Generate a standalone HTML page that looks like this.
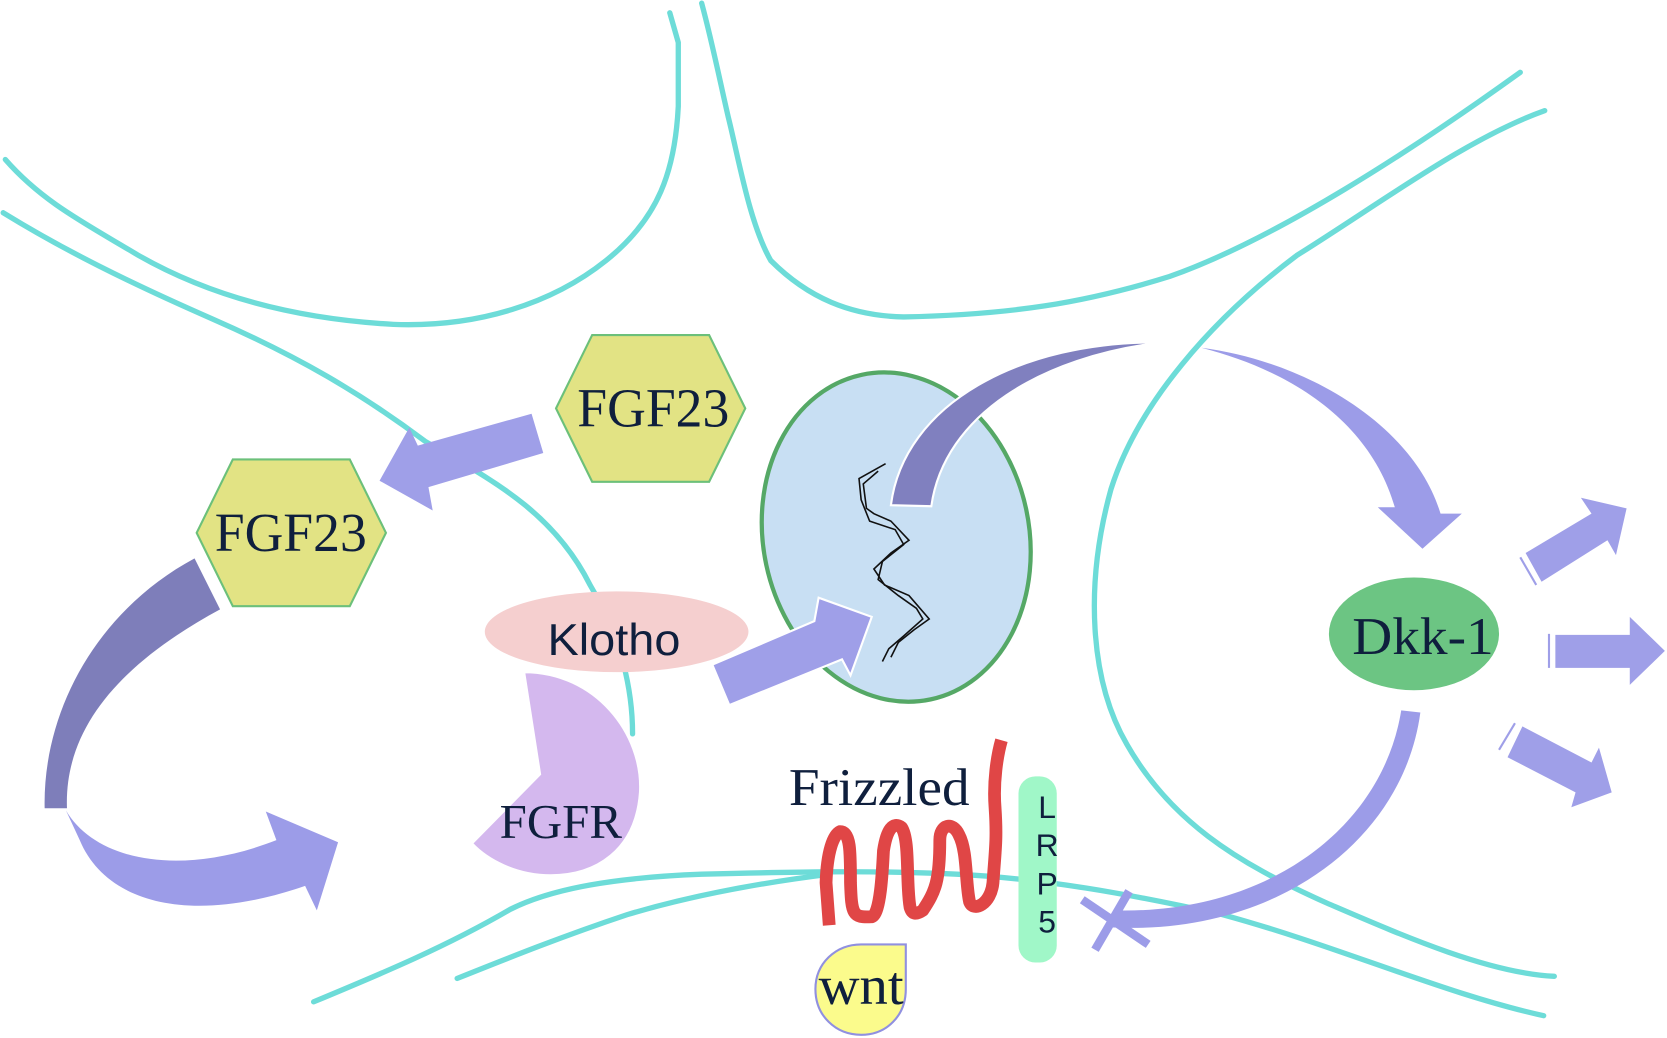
<!DOCTYPE html>
<html><head><meta charset="utf-8"><style>html,body{margin:0;padding:0;background:#fff;overflow:hidden}svg{display:block}</style></head>
<body>
<svg width="1667" height="1038" viewBox="0 0 1568 976" preserveAspectRatio="none" xmlns="http://www.w3.org/2000/svg">
<g fill="none" stroke="#6ddcd8" stroke-width="5" stroke-linecap="round">
<path d="M5,150 C40,190 80,210 130,240 C200,280 280,300 370,305 C450,308 520,285 570,245 C620,205 635,160 638,100 L638,40 L630,12"/>
<path d="M3,200 C60,235 120,265 200,300 C280,335 340,370 400,415 C460,450 520,480 555,550 C585,600 595,650 595,690"/>
<path d="M660,3 C670,40 678,80 685,110 C695,150 705,210 725,245 C760,280 800,297 850,298 C950,296 1020,285 1100,260 C1200,225 1330,140 1430,68"/>
<path d="M1453,104 C1380,130 1300,190 1220,240 C1140,300 1070,380 1045,460 C1020,550 1025,640 1060,700 C1100,770 1160,810 1250,850 C1320,880 1400,915 1462,918"/>
<path d="M295,942 C360,915 420,890 480,855 C520,835 580,825 660,822 C740,820 820,818 900,822 C980,826 1060,840 1150,860 C1260,890 1360,935 1452,955"/>
<path d="M430,920 C480,900 530,880 590,860 C640,845 700,832 780,822"/>
</g>
<polygon points="523,384 557,315 667,315 701,384 667,453 557,453" fill="#e2e384" stroke="#6cc07a" stroke-width="2"/>
<text x="543" y="401" textLength="143" lengthAdjust="spacingAndGlyphs" font-family="Liberation Serif, serif" font-size="52" fill="#0f1f3d">FGF23</text>
<polygon points="185,501 219,432 329,432 363,501 329,570 219,570" fill="#e2e384" stroke="#6cc07a" stroke-width="2"/>
<text x="202" y="518" textLength="143" lengthAdjust="spacingAndGlyphs" font-family="Liberation Serif, serif" font-size="52" fill="#0f1f3d">FGF23</text>
<polygon points="500,389 511,426 403,458 407,480 357,452 385,402 393,419" fill="#9f9fe8"/>
<path d="M183,525 L207,573 C120,620 60,680 63,760 L42,760 C40,670 90,575 183,525 Z" fill="#7e7eba"/>
<path d="M62,762 C90,810 170,825 260,790 L250,763 L318,792 L298,856 L287,833 C180,870 100,850 75,790 Z" fill="#9c9ce8"/>
<ellipse cx="580" cy="594" rx="124" ry="38" fill="#f5cfcf"/>
<text x="515" y="616" textLength="125" lengthAdjust="spacingAndGlyphs" font-family="Liberation Sans, sans-serif" font-size="42" fill="#0f1f3d">Klotho</text>
<path d="M493,632 C560,632 605,690 602,745 C598,800 560,823 518,823 C485,823 458,808 444,793 L508,728 Z" fill="#d4b8ee" stroke="#fff" stroke-width="2"/>
<text x="470" y="788" textLength="115" lengthAdjust="spacingAndGlyphs" font-family="Liberation Serif, serif" font-size="46" fill="#0f1f3d">FGFR</text>
<ellipse cx="843" cy="505" rx="125" ry="156" transform="rotate(-12 843 505)" fill="#c8dff3" stroke="#55a866" stroke-width="4"/>
<path d="M833,436 L808,450 L810,470 L818,490 L842,498 L850,512 L830,528 L826,545 L845,560 L862,572 L868,582 L850,598 L836,610 L830,622" fill="none" stroke="#111" stroke-width="1.5"/>
<path d="M826,443 L812,455 L815,478 L822,483 L838,490 L855,508 L838,520 L822,535 L832,550 L855,560 L874,582 L860,592 L845,604 L838,618" fill="none" stroke="#111" stroke-width="1.5"/>
<path d="M1093,322 C960,320 850,380 838,475 L876,476 C888,390 980,335 1093,322 Z" fill="#8080bf" stroke="#fff" stroke-width="2"/>
<polygon points="670,625 766,584 770,562 820,580 800,635 792,620 686,663" fill="#9f9fe8" stroke="#fff" stroke-width="2"/>
<path d="M1130,327 C1230,340 1330,400 1355,483 L1375,483 L1338,516 L1296,477 L1312,477 C1290,400 1220,350 1130,327 Z" fill="#9c9ce8"/>
<ellipse cx="1330" cy="596" rx="80" ry="53" fill="#6cc583"/>
<text x="1272" y="615" textLength="133" lengthAdjust="spacingAndGlyphs" font-family="Liberation Serif, serif" font-size="50" fill="#0f1f3d">Dkk-1</text>
<polygon points="1435,520 1497,483 1487,468 1530,478 1520,522 1512,508 1450,547" fill="#9f9fe8"/>
<line x1="1430" y1="524" x2="1445" y2="550" stroke="#9f9fe8" stroke-width="2"/>
<polygon points="1463,597 1533,597 1533,580 1566,612 1533,644 1533,628 1463,628" fill="#9f9fe8"/>
<line x1="1457" y1="596" x2="1457" y2="628" stroke="#9f9fe8" stroke-width="2"/>
<polygon points="1432,683 1497,717 1504,703 1516,745 1478,759 1482,745 1418,712" fill="#9f9fe8"/>
<line x1="1425" y1="680" x2="1410" y2="705" stroke="#9f9fe8" stroke-width="2"/>
<path d="M1318,668 L1336,670 C1320,790 1200,880 1045,872 L1048,856 C1190,860 1300,780 1318,668 Z" fill="#9c9ce8"/>
<line x1="1018" y1="846" x2="1080" y2="888" stroke="#9c9ce8" stroke-width="8"/>
<line x1="1062" y1="838" x2="1030" y2="893" stroke="#9c9ce8" stroke-width="8"/>
<text x="742" y="757" textLength="170" lengthAdjust="spacingAndGlyphs" font-family="Liberation Serif, serif" font-size="50" fill="#0f1f3d">Frizzled</text>
<path d="M780,870 L777,830 C778,800 784,785 790,782 C800,782 800,800 800,830 C801,860 802,863 820,862 C828,860 830,820 831,800 C834,780 840,772 848,778 C856,790 852,830 856,853 C858,860 862,860 868,856 C880,838 884,828 884,790 C884,775 896,772 902,785 C910,800 908,830 912,848 C916,858 932,850 934,830 C936,800 938,790 936,760 C934,735 938,710 942,696" fill="none" stroke="#e04646" stroke-width="12" stroke-linejoin="round"/>
<rect x="958" y="730" width="36" height="175" rx="16" fill="#a0f7c8"/>
<g font-family="Liberation Sans, sans-serif" font-size="30" fill="#0f1f3d" text-anchor="middle">
<text x="985" y="769">L</text><text x="985" y="805">R</text><text x="985" y="841">P</text><text x="985" y="877">5</text></g>
<path d="M852,888 L852,930 C852,955 834,973 810,973 C786,973 767,955 767,930 C767,906 786,888 810,888 Z" fill="#fbfb8c" stroke="#9090e0" stroke-width="2"/>
<text x="770" y="944" textLength="80" lengthAdjust="spacingAndGlyphs" font-family="Liberation Serif, serif" font-size="52" fill="#0f1f3d">wnt</text>
</svg>
</body></html>
